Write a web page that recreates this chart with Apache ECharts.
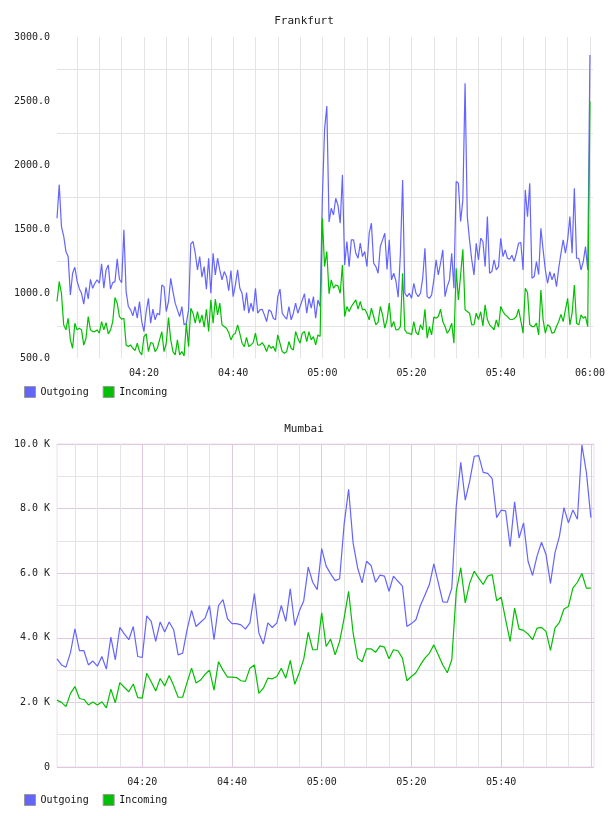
<!DOCTYPE html>
<html>
<head>
<meta charset="utf-8">
<title>Frankfurt / Mumbai traffic</title>
<script src="https://cdn.jsdelivr.net/npm/echarts@6.0.0/dist/echarts.min.js"></script>
<style>
  html, body { margin: 0; padding: 0; background: #fff; }
  #chart { width: 608px; height: 816px; }
</style>
</head>
<body>
<div id="chart"></div>
<script>
// Frankfurt: one sample every 30 s, first at 04:00:30 (minutes after 04:00)
const frankfurtStart = 0.5
const frankfurtStep = 0.5
const frankfurtOut = [
  1588, 1850, 1524, 1450, 1330, 1290, 991, 1160, 1207, 1100,
  1040, 1004, 920, 1051, 960, 1113, 1043, 1082, 1108, 1082,
  1233, 1043, 1186, 1225, 1036, 1087, 1095, 1272, 1113, 1087,
  1498, 1017, 901, 875, 828, 901, 810, 940, 784, 706,
  862, 965, 771, 880, 797, 849, 836, 1069, 1056, 862,
  940, 1121, 1017, 927, 875, 823, 901, 758, 771, 875,
  1389, 1407, 1316, 1186, 1290, 1129, 1212, 1036, 1277, 1004,
  1316, 1147, 1277, 1186, 1108, 1173, 1134, 1025, 1181, 978,
  1069, 1186, 1043, 1004, 869, 1010, 849, 927, 862, 1043,
  849, 875, 880, 836, 784, 875, 862, 810, 797, 978,
  1036, 849, 823, 802, 901, 797, 849, 927, 849, 900,
  952, 1000, 849, 965, 888, 978, 810, 952, 901, 1750,
  2282, 2463, 1560, 1666, 1614, 1744, 1690, 1550, 1926, 1225,
  1407, 1212, 1420, 1420, 1316, 1277, 1394, 1290, 1329, 1212,
  1472, 1550, 1238, 1212, 1160, 1368, 1420, 1472, 1190, 1420,
  1108, 1160, 1100, 973, 1316, 1887, 1004, 978, 1004, 965,
  1082, 1004, 978, 1004, 1121, 1355, 978, 965, 991, 1108,
  1264, 1147, 1238, 1342, 978, 1056, 1108, 1316, 1043, 1874,
  1861, 1563, 1731, 2640, 1600, 1420, 1264, 1147, 1394, 1264,
  1433, 1407, 1212, 1601, 1160, 1173, 1264, 1186, 1212, 1433,
  1290, 1342, 1277, 1269, 1300, 1251, 1316, 1394, 1400, 1186,
  1809, 1600, 1861, 1121, 1134, 1251, 1150, 1511, 1342, 1186,
  1082, 1173, 1108, 1160, 1056, 1199, 1316, 1420, 1316, 1420,
  1601, 1316, 1822, 1277, 1277, 1186, 1251, 1368, 1186, 2860
]
const frankfurtIn = [
  940, 1095, 1004, 758, 719, 810, 641, 576, 771, 719,
  732, 719, 600, 654, 823, 719, 706, 706, 719, 693,
  784, 719, 776, 688, 719, 784, 971, 927, 823, 802,
  810, 602, 589, 602, 576, 558, 615, 550, 524, 667,
  688, 550, 620, 615, 550, 576, 641, 706, 550, 615,
  815, 641, 550, 524, 641, 524, 550, 516, 771, 589,
  888, 849, 771, 862, 771, 836, 740, 880, 706, 953,
  771, 958, 836, 927, 758, 745, 732, 698, 641, 680,
  693, 758, 690, 615, 589, 660, 589, 602, 620, 693,
  602, 600, 620, 594, 550, 602, 576, 589, 550, 680,
  615, 550, 537, 550, 628, 576, 563, 706, 654, 615,
  693, 706, 628, 706, 641, 667, 602, 680, 667, 1588,
  1212, 1329, 1000, 1108, 1043, 1069, 1062, 1004, 1225, 823,
  901, 862, 901, 927, 953, 880, 940, 875, 880, 849,
  797, 888, 823, 758, 780, 901, 836, 732, 797, 927,
  740, 784, 719, 720, 745, 1160, 719, 693, 693, 680,
  784, 700, 680, 760, 719, 880, 654, 745, 680, 820,
  810, 823, 880, 784, 745, 693, 719, 771, 615, 1199,
  953, 1147, 1347, 875, 862, 849, 758, 760, 849, 800,
  860, 750, 914, 800, 758, 740, 720, 797, 740, 901,
  862, 836, 823, 802, 800, 805, 823, 880, 790, 693,
  1043, 1010, 760, 745, 745, 771, 680, 1030, 797, 693,
  760, 745, 693, 700, 745, 784, 840, 784, 875, 965,
  758, 849, 1069, 771, 758, 836, 810, 823, 745, 2497
]

// Mumbai: one sample per minute, 04:01 .. 06:00
const mumbaiStart = 1
const mumbaiStep = 1
const mumbaiOut = [
  3350, 3160, 3090, 3540, 4280, 3600, 3600, 3160, 3280, 3120,
  3420, 3030, 4020, 3320, 4320, 4120, 3940, 4350, 3420, 3390,
  4680, 4510, 3890, 4490, 4180, 4490, 4250, 3470, 3520, 4250,
  4850, 4350, 4480, 4610, 5000, 3940, 5000, 5180, 4590, 4440,
  4440, 4400, 4270, 4460, 5370, 4150, 3810, 4460, 4320, 4460,
  5000, 4510, 5520, 4380, 4820, 5150, 6190, 5720, 5490, 6760,
  6220, 5980, 5770, 5830, 7510, 8600, 6940, 6170, 5700, 6370,
  6240, 5720, 5940, 5910, 5440, 5910, 5750, 5600, 4350, 4440,
  4560, 5000, 5320, 5650, 6290, 5700, 5110, 5100, 5540, 8080,
  9430, 8260, 8860, 9620, 9640, 9120, 9090, 8930, 7720, 7950,
  7930, 6820, 8210, 7090, 7560, 6370, 5930, 6530, 6960, 6580,
  5680, 6630, 7150, 8030, 7560, 7960, 7670, 9970, 9120, 7720
]
const mumbaiIn = [
  2070, 2000, 1870, 2280, 2490, 2120, 2090, 1920, 2010, 1920,
  2020, 1830, 2410, 1990, 2610, 2470, 2330, 2570, 2150, 2130,
  2900, 2640, 2350, 2740, 2510, 2830, 2520, 2160, 2160, 2620,
  3060, 2600, 2690, 2870, 3000, 2380, 3260, 3000, 2780, 2780,
  2770, 2670, 2650, 3060, 3160, 2280, 2440, 2750, 2730, 2800,
  3060, 2750, 3300, 2560, 2920, 3340, 4170, 3630, 3630, 4770,
  3730, 3960, 3470, 3890, 4610, 5440, 4150, 3370, 3260, 3660,
  3660, 3550, 3750, 3710, 3350, 3630, 3600, 3370, 2670, 2800,
  2920, 3160, 3370, 3520, 3780, 3470, 3160, 2920, 3320, 5440,
  6170, 5080, 5700, 6060, 5850, 5650, 5910, 5960, 5150, 5260,
  4560, 3890, 4920, 4270, 4230, 4120, 3940, 4300, 4320, 4200,
  3610, 4300, 4480, 4890, 4970, 5540, 5720, 5990, 5540, 5540
]

const seriesNames = ['Outgoing', 'Incoming']
const colorOut = '#6464ff'
const colorIn = '#00c000'
const mono = 'DejaVu Sans Mono'

function pad(n) { return (n < 10 ? '0' : '') + n }
// minutes after 04:00 -> "hh:mm"
function clock(v) {
  return pad(4 + Math.floor(v / 60)) + ':' + pad(Math.round(v % 60))
}
function pairs(values, start, step) {
  return values.map((v, i) => [start + i * step, v])
}

const chart = echarts.init(document.getElementById('chart'), null, { renderer: 'canvas' })

const labelStyle = { fontFamily: mono, fontSize: 10, color: '#222' }

function timeAxis(gridIndex, min, lastLabel, majorColor, minorColor) {
  return {
    type: 'value',
    gridIndex: gridIndex,
    min: min,
    max: 120.7,
    splitNumber: 6,
    axisLine: { show: false },
    axisTick: { show: false },
    axisLabel: Object.assign({
      margin: 10,
      formatter: v => (v % 20 === 0 && v > 0 && v <= lastLabel) ? clock(v) : ''
    }, labelStyle),
    splitLine: { show: true, showMinLine: false, showMaxLine: false, lineStyle: { color: majorColor, width: 1 } },
    minorTick: { show: false, splitNumber: 4 },
    minorSplitLine: { show: true, lineStyle: { color: minorColor, width: 1 } }
  }
}

function lineSeries(name, color, xi, data) {
  return {
    name: name,
    type: 'line',
    xAxisIndex: xi,
    yAxisIndex: xi,
    data: data,
    showSymbol: false,
    symbol: 'none',
    color: color,
    lineStyle: { color: color, width: 1.2 },
    itemStyle: { color: color, borderColor: '#999', borderWidth: 1 },
    animation: false
  }
}

function legendAt(top) {
  return {
    data: seriesNames, left: 24, top: top, padding: 0,
    icon: 'rect', itemWidth: 11, itemHeight: 11, itemGap: 14,
    itemStyle: { borderColor: '#999', borderWidth: 1 },
    textStyle: { fontFamily: mono, fontSize: 10, color: '#111' }
  }
}

chart.setOption({
  animation: false,
  title: [
    { text: 'Frankfurt', left: 'center', top: 11, textStyle: { fontFamily: mono, fontSize: 11, fontWeight: 'normal', color: '#222' } },
    { text: 'Mumbai', left: 'center', top: 419, textStyle: { fontFamily: mono, fontSize: 11, fontWeight: 'normal', color: '#222' } }
  ],
  legend: [legendAt(386), legendAt(794)],
  grid: [
    { left: 57, top: 37, width: 537, height: 321 },
    { left: 57, top: 444, width: 537, height: 323, show: true, borderColor: '#efdfef', borderWidth: 1 }
  ],
  xAxis: [
    timeAxis(0, frankfurtStart, 120, '#e4e4e4', '#e4e4e4'),
    timeAxis(1, mumbaiStart, 100, '#e0c8e0', '#e4e4e4')
  ],
  yAxis: [
    {
      type: 'value', gridIndex: 0, min: 500, max: 3000, interval: 500,
      axisLine: { show: false }, axisTick: { show: false },
      axisLabel: Object.assign({ margin: 7, formatter: v => v.toFixed(1) }, labelStyle),
      splitLine: { show: false },
      minorTick: { show: false, splitNumber: 2 },
      minorSplitLine: { show: true, lineStyle: { color: '#e4e4e4', width: 1 } }
    },
    {
      type: 'value', gridIndex: 1, min: 0, max: 10000, interval: 2000,
      axisLine: { show: false }, axisTick: { show: false },
      axisLabel: Object.assign({ margin: 7, formatter: v => v === 0 ? '0' : (v / 1000).toFixed(1) + ' K' }, labelStyle),
      splitLine: { show: true, lineStyle: { color: '#e0c8e0', width: 1 } },
      minorTick: { show: false, splitNumber: 2 },
      minorSplitLine: { show: true, lineStyle: { color: '#e4e4e4', width: 1 } }
    }
  ],
  series: [
    lineSeries('Outgoing', colorOut, 0, pairs(frankfurtOut, frankfurtStart, frankfurtStep)),
    lineSeries('Incoming', colorIn, 0, pairs(frankfurtIn, frankfurtStart, frankfurtStep)),
    lineSeries('Outgoing', colorOut, 1, pairs(mumbaiOut, mumbaiStart, mumbaiStep)),
    lineSeries('Incoming', colorIn, 1, pairs(mumbaiIn, mumbaiStart, mumbaiStep))
  ]
})
</script>
</body>
</html>
